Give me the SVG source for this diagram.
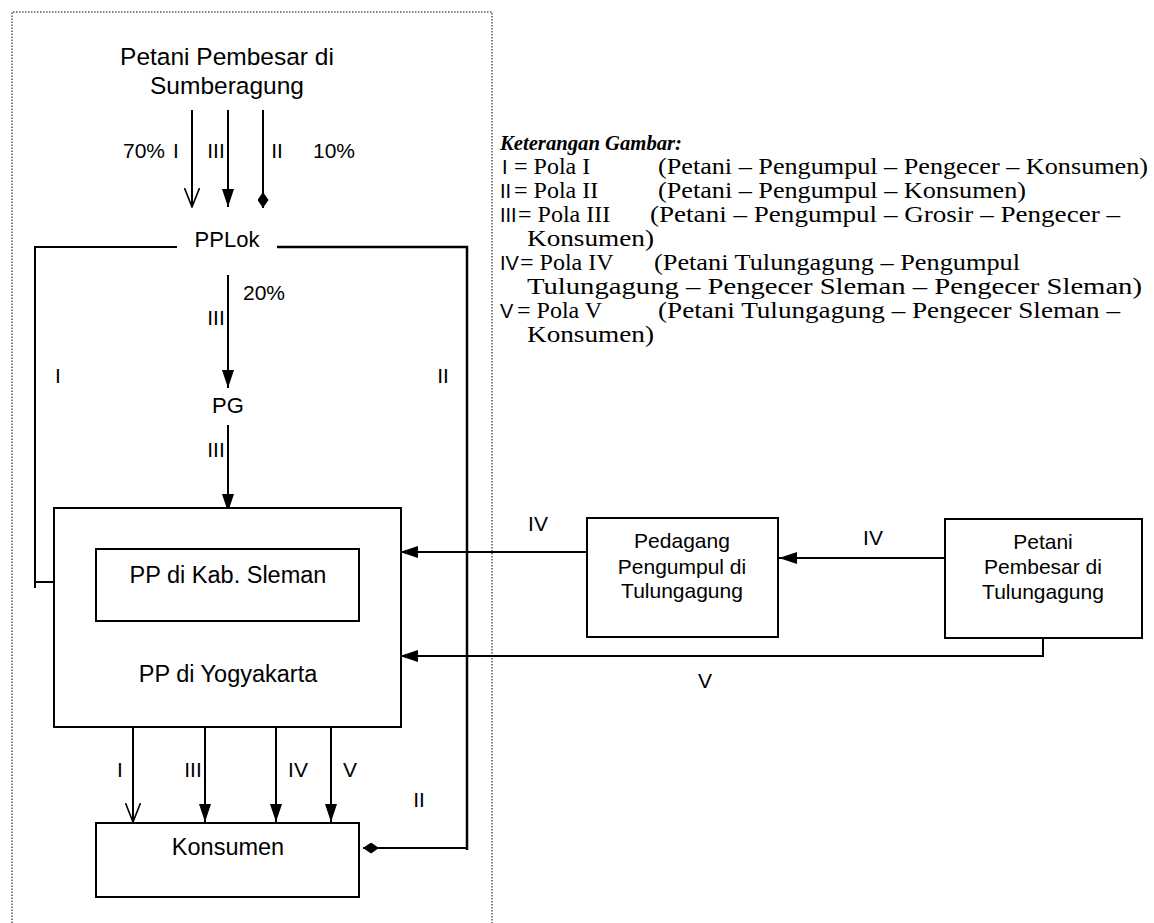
<svg xmlns="http://www.w3.org/2000/svg" width="1154" height="923" viewBox="0 0 1154 923">
<style>
.sans{font-family:"Liberation Sans",Arial,sans-serif;fill:#000}
.serif{font-family:"Liberation Serif","Times New Roman",serif;fill:#000}
.lbl{font-size:21px}
.box{fill:#fff;stroke:#000;stroke-width:2}
.ln{fill:none;stroke:#000;stroke-width:2}
.frame{fill:none;stroke:#555;stroke-width:1.5;stroke-dasharray:1.5 1.5}
.leg{font-size:24px}
.pre{font-family:"Liberation Sans",Arial,sans-serif;font-size:20px}
</style>
<defs>
<marker id="tri" viewBox="0 0 18 12" refX="18" refY="6" markerWidth="18" markerHeight="12" markerUnits="userSpaceOnUse" orient="auto"><path d="M0,0 L18,6 L0,12 z" fill="#000"/></marker>
<marker id="open" viewBox="0 0 20 16" refX="19" refY="8" markerWidth="20" markerHeight="16" markerUnits="userSpaceOnUse" orient="auto"><path d="M0,0.5 L19,8 L0,15.5" fill="none" stroke="#000" stroke-width="1.6"/></marker>
<marker id="dia" viewBox="0 0 16 11" refX="16" refY="5.5" markerWidth="16" markerHeight="11" markerUnits="userSpaceOnUse" orient="auto"><path d="M0,5.5 L8,0 L16,5.5 L8,11 z" fill="#000"/></marker>
</defs>
<rect width="1154" height="923" fill="#fff"/>
<path class="frame" d="M12,923 V12 H492 V923"/>

<g id="connectors">
<path class="ln" d="M192,110 V207" marker-end="url(#open)"/>
<path class="ln" d="M228,110 V207" marker-end="url(#tri)"/>
<path class="ln" d="M263,110 V208" marker-end="url(#dia)"/>
<path class="ln" d="M177,247 H35 V588"/>
<path class="ln" d="M35,582 H84" marker-end="url(#open)"/>
<path class="ln" d="M277,247 H467 V850" style="stroke-width:2.5"/>
<path class="ln" d="M467,848 H363" marker-end="url(#dia)"/>
<path class="ln" d="M228,275 V388" marker-end="url(#tri)"/>
<path class="ln" d="M228,425 V512" marker-end="url(#tri)"/>
<path class="ln" d="M133,727 V822" marker-end="url(#open)"/>
<path class="ln" d="M205,727 V822" marker-end="url(#tri)"/>
<path class="ln" d="M276,727 V822" marker-end="url(#tri)"/>
<path class="ln" d="M331,727 V822" marker-end="url(#tri)"/>
<path class="ln" d="M587,552 H400" marker-end="url(#tri)"/>
<path class="ln" d="M945,558 H779" marker-end="url(#tri)"/>
<path class="ln" d="M1043,638 V656 H400" marker-end="url(#tri)"/>
<g class="sans lbl">
<text x="144" y="158" text-anchor="middle">70%</text>
<text x="176" y="158" text-anchor="middle">I</text>
<text x="216" y="158" text-anchor="middle">III</text>
<text x="277" y="158" text-anchor="middle">II</text>
<text x="334" y="158" text-anchor="middle">10%</text>
<text x="243" y="300">20%</text>
<text x="216" y="325" text-anchor="middle">III</text>
<text x="58" y="383" text-anchor="middle">I</text>
<text x="443" y="383" text-anchor="middle">II</text>
<text x="216" y="457" text-anchor="middle">III</text>
<text x="120" y="777" text-anchor="middle">I</text>
<text x="193" y="777" text-anchor="middle">III</text>
<text x="298" y="777" text-anchor="middle">IV</text>
<text x="350" y="777" text-anchor="middle">V</text>
<text x="419" y="807" text-anchor="middle">II</text>
<text x="538" y="531" text-anchor="middle">IV</text>
<text x="873" y="545" text-anchor="middle">IV</text>
<text x="705" y="688" text-anchor="middle">V</text>
</g>
</g>

<g id="node-sumberagung">
<text class="sans" x="227" y="65" text-anchor="middle" font-size="24.5">Petani Pembesar di</text>
<text class="sans" x="227" y="94" text-anchor="middle" font-size="24.5">Sumberagung</text>
</g>

<g id="node-pplok">
<text class="sans" x="227" y="247" text-anchor="middle" font-size="22">PPLok</text>
</g>

<g id="node-pg">
<text class="sans" x="228" y="413" text-anchor="middle" font-size="22">PG</text>
</g>

<g id="node-yogyakarta">
<rect class="box" x="54" y="508" width="347" height="219"/>
<text class="sans" x="228" y="682" text-anchor="middle" font-size="23.5">PP di Yogyakarta</text>
</g>

<g id="node-sleman">
<rect class="box" x="96" y="549" width="263" height="72"/>
<text class="sans" x="228" y="583" text-anchor="middle" font-size="23.5">PP di Kab. Sleman</text>
</g>

<g id="node-konsumen">
<rect class="box" x="96" y="823" width="263" height="74"/>
<text class="sans" x="228" y="855" text-anchor="middle" font-size="23.5">Konsumen</text>
</g>

<g id="node-pedagang">
<rect class="box" x="587" y="518" width="191" height="119"/>
<text class="sans" x="682" y="548" text-anchor="middle" font-size="21">Pedagang</text>
<text class="sans" x="682" y="574" text-anchor="middle" font-size="21">Pengumpul di</text>
<text class="sans" x="682" y="598" text-anchor="middle" font-size="21">Tulungagung</text>
</g>

<g id="node-petani-tulungagung">
<rect class="box" x="945" y="519" width="197" height="119"/>
<text class="sans" x="1043" y="549" text-anchor="middle" font-size="21">Petani</text>
<text class="sans" x="1043" y="574" text-anchor="middle" font-size="21">Pembesar di</text>
<text class="sans" x="1043" y="599" text-anchor="middle" font-size="21">Tulungagung</text>
</g>

<g id="legend" class="leg">
<text class="serif" x="500" y="150" font-size="22" font-weight="bold" font-style="italic" textLength="182" lengthAdjust="spacingAndGlyphs">Keterangan Gambar:</text>
<text class="serif" y="174"><tspan class="pre" x="502">I</tspan><tspan x="514">= Pola I</tspan><tspan x="658" textLength="490" lengthAdjust="spacingAndGlyphs">(Petani – Pengumpul – Pengecer – Konsumen)</tspan></text>
<text class="serif" y="198"><tspan class="pre" x="500">II</tspan><tspan x="514">= Pola II</tspan><tspan x="658" textLength="368" lengthAdjust="spacingAndGlyphs">(Petani – Pengumpul – Konsumen)</tspan></text>
<text class="serif" y="222"><tspan class="pre" x="500">III</tspan><tspan x="518">= Pola III</tspan><tspan x="650" textLength="470" lengthAdjust="spacingAndGlyphs">(Petani – Pengumpul – Grosir – Pengecer –</tspan></text>
<text class="serif" x="527" y="246" textLength="127" lengthAdjust="spacingAndGlyphs">Konsumen)</text>
<text class="serif" y="270"><tspan class="pre" x="500">IV</tspan><tspan x="520">= Pola IV</tspan><tspan x="654" textLength="366" lengthAdjust="spacingAndGlyphs">(Petani Tulungagung – Pengumpul</tspan></text>
<text class="serif" x="527" y="294" textLength="615" lengthAdjust="spacingAndGlyphs">Tulungagung – Pengecer Sleman – Pengecer Sleman)</text>
<text class="serif" y="318"><tspan class="pre" x="500">V</tspan><tspan x="517">= Pola V</tspan><tspan x="658" textLength="462" lengthAdjust="spacingAndGlyphs">(Petani Tulungagung – Pengecer Sleman –</tspan></text>
<text class="serif" x="527" y="342" textLength="127" lengthAdjust="spacingAndGlyphs">Konsumen)</text>
</g>
</svg>
